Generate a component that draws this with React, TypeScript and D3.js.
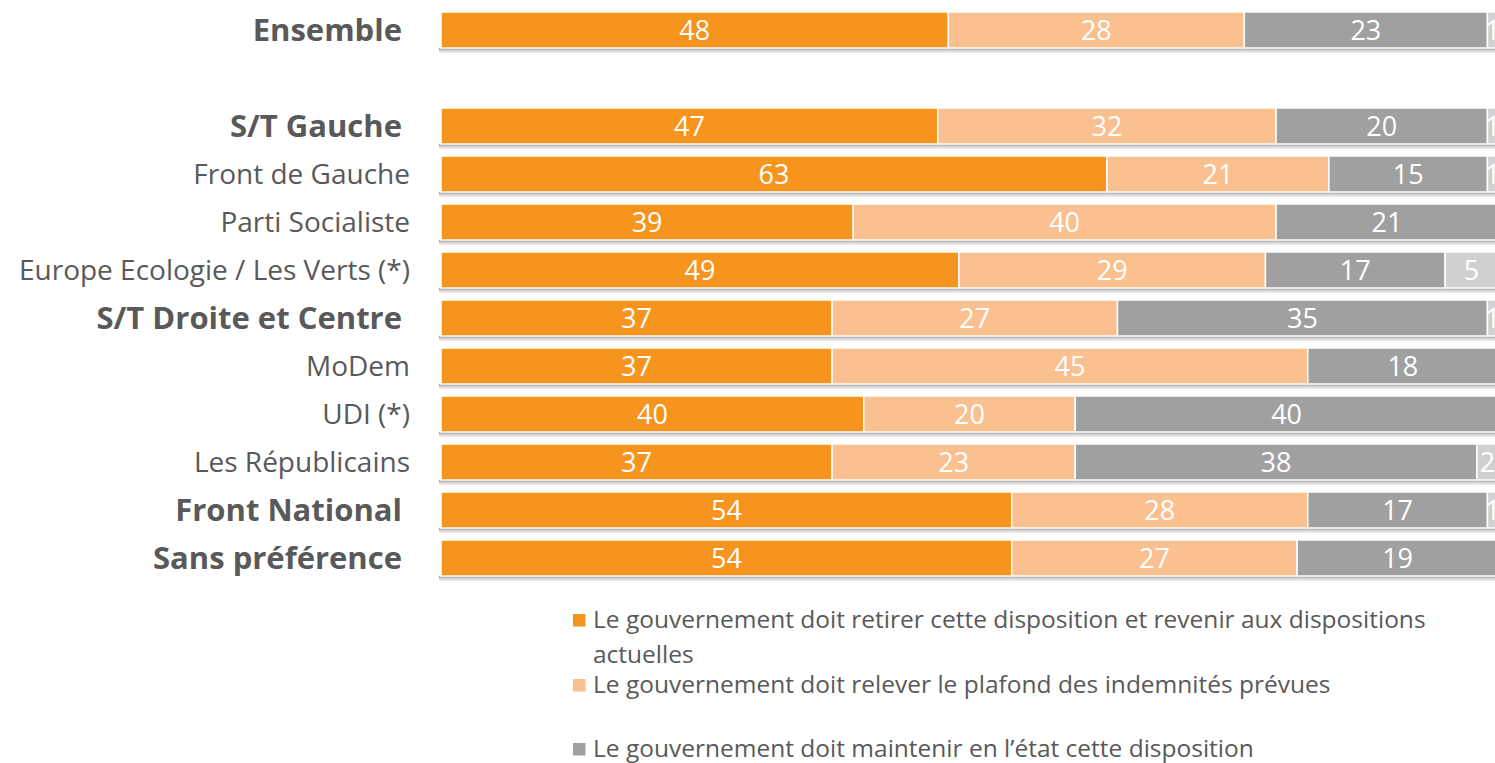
import React from "react";
import * as d3 from "d3";

const categories = [
  "Ensemble",
  "",
  "S/T Gauche",
  "Front de Gauche",
  "Parti Socialiste",
  "Europe Ecologie / Les Verts (*)",
  "S/T Droite et Centre",
  "MoDem",
  "UDI (*)",
  "Les Républicains",
  "Front National",
  "Sans préférence",
];
const boldCats = ["Ensemble", "S/T Gauche", "S/T Droite et Centre", "Front National", "Sans préférence"];

const retirer = [48, null, 47, 63, 39, 49, 37, 37, 40, 37, 54, 54];
const relever = [28, null, 32, 21, 40, 29, 27, 45, 20, 23, 28, 27];
const maintenir = [23, null, 20, 15, 21, 17, 35, 18, 40, 38, 17, 19];
const nsp = [1, null, 1, 1, 0, 5, 1, 0, 0, 2, 1, 0];

const seriesNames = [
  "Le gouvernement doit retirer cette disposition et revenir aux dispositions",
  "Le gouvernement doit relever le plafond des indemnités prévues",
  "Le gouvernement doit maintenir en l’état cette disposition",
];
const colors = ["#F7941D", "#FAC090", "#A0A0A0", "#D0D0D0"];

export default function App() {
  const W = 1495;
  const H = 763;
  const x = d3.scaleLinear().domain([0, 100]).range([441, 1498]);
  const y = d3
    .scaleBand<string>()
    .domain(categories.map((c, i) => String(i)))
    .range([6, 582])
    .paddingInner(0.25)
    .paddingOuter(0.125);
  const series = [retirer, relever, maintenir, nsp];
  const font = "'Open Sans', 'Noto Sans', sans-serif";

  const rows = categories.map((cat, i) => {
    if (retirer[i] == null) return null;
    const vals = series.map((s) => s[i] as number);
    let acc = 0;
    const segs = vals.map((v, k) => {
      const s = { x0: acc, x1: acc + v, v, k };
      acc += v;
      return s;
    });
    return { cat, i, segs };
  });

  const legendY = [628, 693, 757];

  return (
    <svg width={W} height={H} style={{ position: "absolute", left: 0, top: 0, background: "#fff" }}>
      <defs>
        <linearGradient id="shadow" x1="0" y1="0" x2="0" y2="1">
          <stop offset="0" stopColor="#8a8a8a" stopOpacity="0.9" />
          <stop offset="1" stopColor="#d8d8d8" stopOpacity="0.1" />
        </linearGradient>
      </defs>
      {rows.map((r) => {
        if (!r) return null;
        const yy = y(String(r.i)) as number;
        const bh = y.bandwidth();
        const bold = boldCats.includes(r.cat);
        return (
          <g key={r.i}>
            <rect x={x(0) - 2} y={yy + bh} width={x(100) - x(0) + 4} height={6} fill="url(#shadow)" />
            {r.segs.map((s) =>
              s.v > 0 ? (
                <g key={s.k}>
                  <rect x={x(s.x0)} y={yy} width={x(s.x1) - x(s.x0)} height={bh} fill={colors[s.k]} stroke="#fff" strokeWidth={1.5} />
                  <text x={(x(s.x0) + x(s.x1)) / 2} y={yy + bh / 2 + 10} textAnchor="middle" fill="#fff" fontSize={27} fontFamily={font}>
                    {s.v}
                  </text>
                </g>
              ) : null
            )}
            <text
              x={bold ? 402 : 410}
              y={yy + bh / 2 + (bold ? 11 : 10)}
              textAnchor="end"
              fill="#595959"
              fontSize={bold ? 31 : 28}
              fontWeight={bold ? 700 : 400}
              fontFamily={font}
            >
              {r.cat}
            </text>
          </g>
        );
      })}
      {seriesNames.map((name, k) => (
        <g key={k}>
          <rect x={573} y={legendY[k] - 14} width={12.5} height={12.5} fill={colors[k]} />
          <text x={593} y={legendY[k]} fill="#595959" fontSize={24.5} fontFamily={font}>
            {name}
          </text>
          {k === 0 ? (
            <text x={593} y={legendY[k] + 35} fill="#595959" fontSize={24.5} fontFamily={font}>
              actuelles
            </text>
          ) : null}
        </g>
      ))}
    </svg>
  );
}
